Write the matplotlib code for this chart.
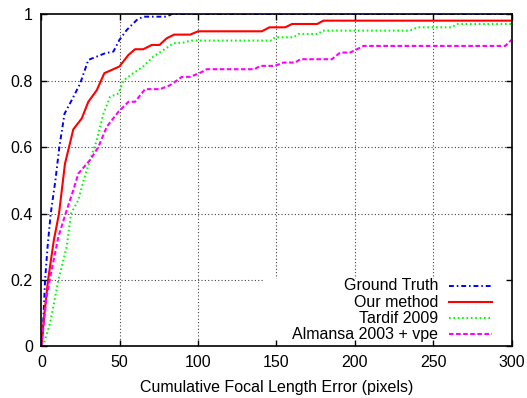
import matplotlib
matplotlib.use('Agg')
import matplotlib.pyplot as plt
from matplotlib.patches import Rectangle

plt.rcParams['font.family'] = ['Liberation Sans', 'DejaVu Sans']

# Kurves
gt_x = [0, 0.9, 2.4, 4, 6, 9, 11.5, 14.8, 19.4, 24.7, 30, 35.4, 40.7, 46, 49.8, 54.5, 60.9, 65, 80, 83.3, 300]
gt_y = [0, 0.04, 0.2, 0.3, 0.4, 0.5, 0.6, 0.7, 0.741, 0.79, 0.862, 0.872, 0.882, 0.887, 0.922, 0.952, 0.982, 0.992, 0.992, 1.0, 1.0]

ours_x = [0, 2, 4.3, 8, 11.3, 15.1, 17.7, 20.4, 25.8, 30, 35.4, 40.2, 45, 49.8, 55.6, 59.8, 65, 70.5, 75.4, 80, 84.7,
          95, 100, 140.7, 145.6, 155.6, 160, 176, 180, 300]
ours_y = [0, 0.1, 0.2, 0.32, 0.4, 0.55, 0.6, 0.653, 0.686, 0.736, 0.771, 0.822, 0.832, 0.842, 0.877, 0.894, 0.894,
          0.907, 0.907, 0.927, 0.938, 0.938, 0.948, 0.948, 0.96, 0.96, 0.97, 0.97, 0.98, 0.98]

tardif_x = [1, 5.6, 10.9, 16.2, 19, 23.6, 26.8, 31.1, 35.4, 39.6, 43.9, 49.2, 52.4, 58.7, 65, 71.5, 78, 84.3, 90.7, 95,
            147, 149, 161, 164, 177, 179, 235, 240, 262, 265, 300]
tardif_y = [0, 0.07, 0.2, 0.3, 0.4, 0.44, 0.496, 0.561, 0.621, 0.7, 0.751, 0.761, 0.8, 0.822, 0.842, 0.872, 0.892, 0.912,
            0.914, 0.92, 0.92, 0.93, 0.93, 0.94, 0.94, 0.95, 0.95, 0.96, 0.96, 0.97, 0.97]

alm_x = [0, 3.4, 6.6, 10.9, 16.2, 20.4, 23.6, 31.1, 36.4, 41.8, 49.2, 55.6, 59.8, 66.2, 75.8, 82.2, 89.7, 95, 101.3,
         105.6, 136, 139.7, 149, 154.5, 162, 165.2, 185.4, 190.7, 197, 201.4, 205.6, 296, 300]
alm_y = [0, 0.15, 0.23, 0.33, 0.41, 0.47, 0.52, 0.561, 0.6, 0.661, 0.706, 0.736, 0.736, 0.774, 0.774, 0.786, 0.811, 0.811,
         0.823, 0.834, 0.834, 0.844, 0.844, 0.854, 0.854, 0.864, 0.864, 0.884, 0.884, 0.894, 0.904, 0.904, 0.922]

labels = ['Ground Truth', 'Our method', 'Tardif 2009', 'Almansa 2003 + vpe']
xticks = [0, 50, 100, 150, 200, 250, 300]
yticks = [0, 0.2, 0.4, 0.6, 0.8, 1]

fig = plt.figure(figsize=(5.27, 3.98), dpi=100)
ax = fig.add_axes([0.0784, 0.1294, 0.8922, 0.8354])

# grid met de hand, zodat de legenda-box erover kan
for xv in xticks[1:-1]:
    ax.axvline(xv, color='#444444', lw=0.8, ls=(0, (1, 2)), zorder=0.5)
for yv in yticks[1:-1]:
    ax.axhline(yv, color='#444444', lw=0.8, ls=(0, (1, 2)), zorder=0.5)
ax.add_patch(Rectangle((0.474, 0), 0.526, 0.203, transform=ax.transAxes,
                       facecolor='white', edgecolor='none', zorder=0.8))

styles = [
    dict(color='#0000ff', lw=1.4, dashes=(2.5, 1.5, 0.8, 1.5)),
    dict(color='#ff0000', lw=1.5, ls='-'),
    dict(color='#00ff00', lw=1.5, dashes=(0.8, 1.3)),
    dict(color='#ff00ff', lw=1.5, dashes=(2.2, 1.2)),
]
series = [(gt_x, gt_y), (ours_x, ours_y), (tardif_x, tardif_y), (alm_x, alm_y)]
for (xs, ys), st in zip(series, styles):
    ax.plot(xs, ys, zorder=2, **st)

# legenda in gnuplot-stijl: tekst rechts uitgelijnd, lijn erachter
for i, (lab, st) in enumerate(zip(labels, styles)):
    yy = 0.182 - i * 0.0482
    ax.text(0.844, yy, lab, transform=ax.transAxes, ha='right', va='center', fontsize=11.5, zorder=3)
    ax.plot([0.868, 0.959], [yy, yy], transform=ax.transAxes, zorder=3, **st)

ax.set_xlim(0, 300)
ax.set_ylim(0, 1)
ax.set_xticks(xticks)
ax.set_yticks(yticks)
ax.set_xticklabels([str(v) for v in xticks])
ax.set_yticklabels(['0', '0.2', '0.4', '0.6', '0.8', '1'])
ax.tick_params(direction='in', length=4, width=1, top=True, right=True, labelsize=11.5, pad=6)
for s in ax.spines.values():
    s.set_linewidth(1.2)
ax.set_xlabel('Cumulative Focal Length Error (pixels)', fontsize=11.5, labelpad=7)

fig.savefig('out.png', dpi=100)
